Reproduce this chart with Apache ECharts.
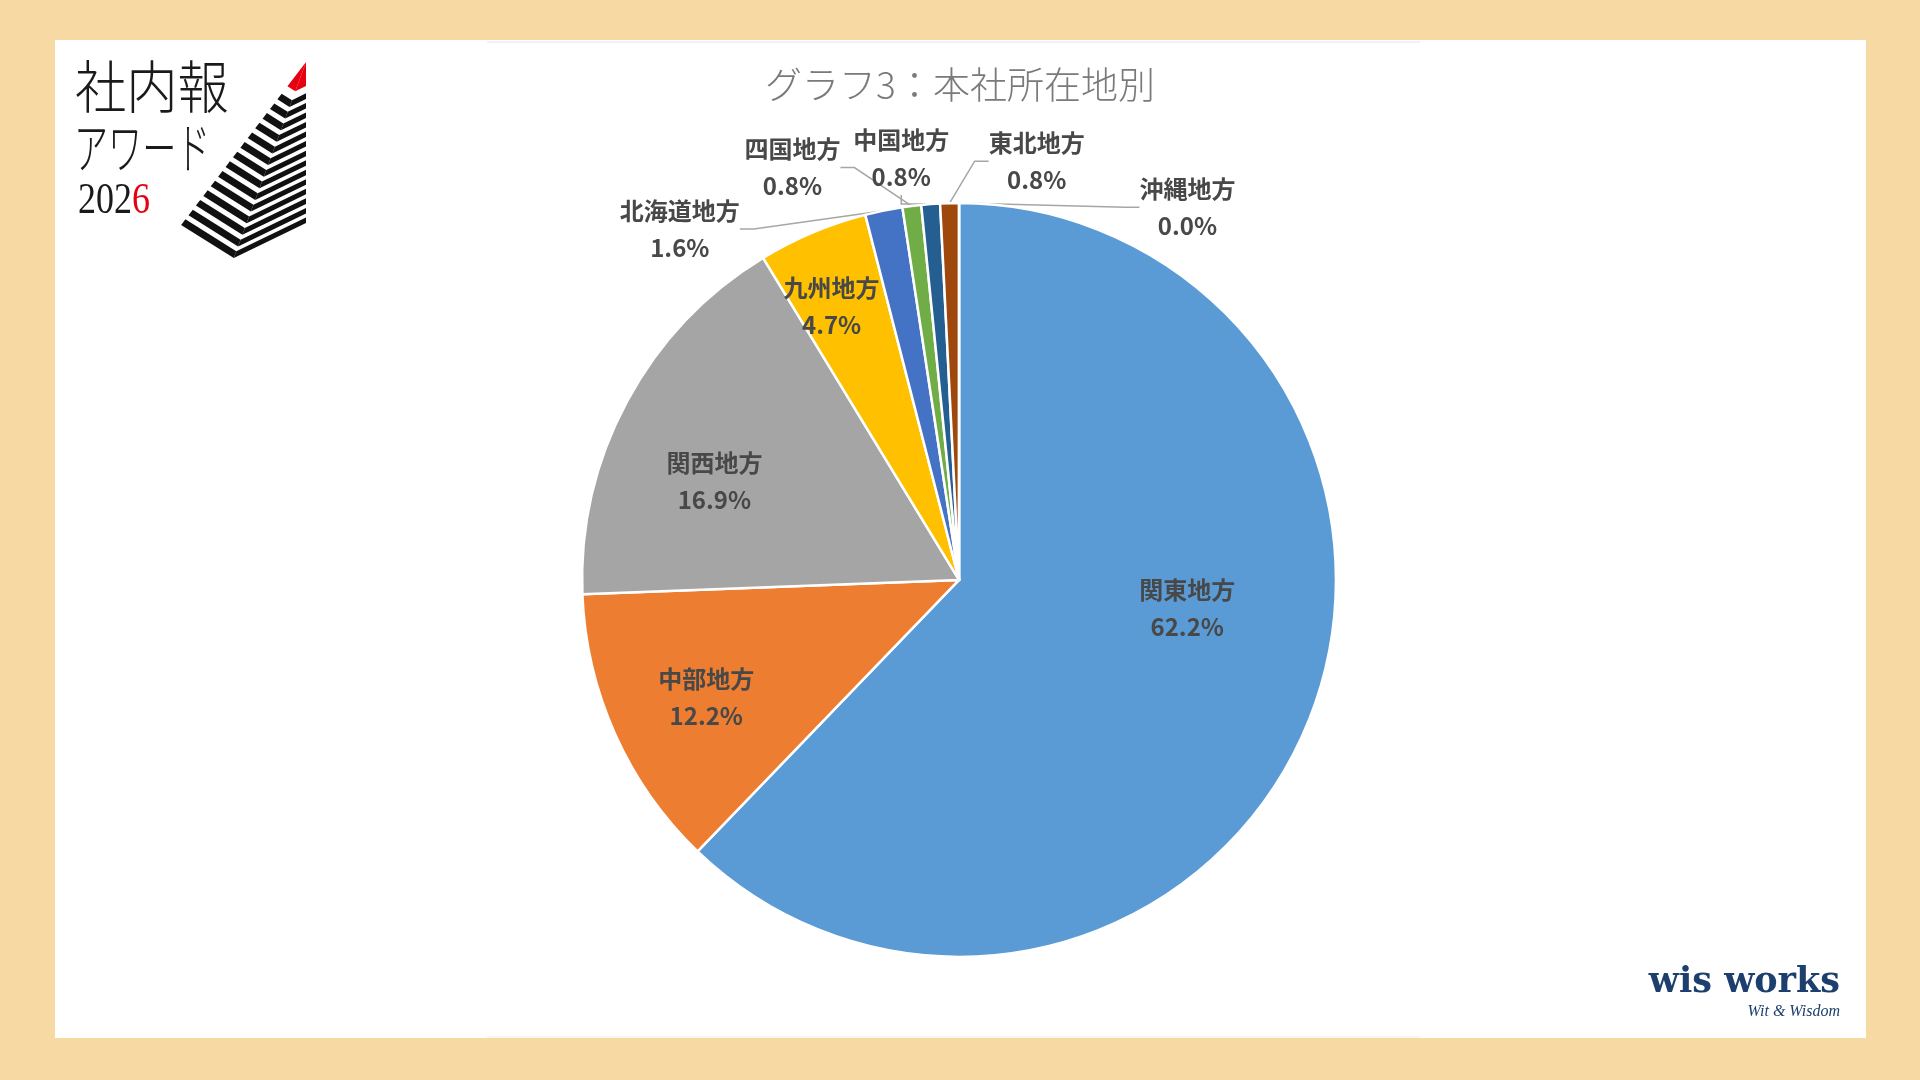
<!DOCTYPE html>
<html>
<head>
<meta charset="utf-8">
<script src="https://cdn.jsdelivr.net/npm/echarts@6/dist/echarts.min.js"></script>
<style>
  html, body { margin: 0; padding: 0; background: #F7DAA3; }
  #chart { width: 1920px; height: 1080px; }
</style>
</head>
<body>
<div id="chart"></div>
<script>
// Data (share of companies, %)
const categories = ['関東地方', '中部地方', '関西地方', '九州地方', '北海道地方', '四国地方', '中国地方', '東北地方', '沖縄地方'];
const shares = [62.2, 12.2, 16.9, 4.7, 1.6, 0.8, 0.8, 0.8, 0.0];

// Excel-like palette, same order as categories
const sliceColors = ['#5B9BD5', '#ED7D31', '#A5A5A5', '#FFC000', '#4472C4', '#70AD47', '#255E91', '#9E480E', '#636363'];
// which labels sit inside their slice
const insideLabel = [true, true, true, true, false, false, false, false, false];
// label spot: angle clockwise from 12 o'clock (deg), distance as a fraction of the radius
const labelSpots = [[97, 0.61], [245, 0.74], [292, 0.70], [335, 0.80], [321.5, 1.19], [338, 1.18], [352.2, 1.13], [10.5, 1.13], [31.5, 1.16]];

const CENTER = [49.95, 53.7];   // percent of width / height
const RADIUS = 69.8;            // percent of half the shorter side

const chart = echarts.init(document.getElementById('chart'));

// logo pyramid (decoration): two faces striped parallel to the base edges
function lerp(p, q, t) { return [p[0] + (q[0] - p[0]) * t, p[1] + (q[1] - p[1]) * t]; }
const A = [306, 62], L = [178, 229], B = [232, 263], R = [306, 227];
const logoShapes = [];
function band(t0, t1, color) {
  logoShapes.push({ type: 'polygon', shape: { points: [lerp(A, L, t0), lerp(A, B, t0), lerp(A, B, t1), lerp(A, L, t1)] }, style: { fill: color } });
  logoShapes.push({ type: 'polygon', shape: { points: [lerp(A, B, t0), lerp(A, R, t0), lerp(A, R, t1), lerp(A, B, t1)] }, style: { fill: color } });
}
band(0, 0.145, '#E60012');
const stripeCount = 14;
const period = (1 - 0.19) / stripeCount;
for (let i = 0; i < stripeCount; i++) {
  const t0 = 0.19 + i * period;
  band(t0, t0 + period * 0.58, '#111111');
}

const data = categories.map((name, i) => ({
  name: name,
  value: shares[i],
  itemStyle: { color: sliceColors[i] },
  label: { position: insideLabel[i] ? 'inside' : 'outside' },
  labelLine: { show: !insideLabel[i] }
}));

const option = {
  backgroundColor: '#F7DAA3',
  title: {
    text: 'グラフ3：本社所在地別',
    left: 'center',
    top: 66,
    padding: 0,
    textStyle: {
      fontFamily: '"Noto Sans CJK JP", "Open Sans", sans-serif',
      fontSize: 37,
      fontWeight: 300,
      color: '#7a7a7a'
    }
  },
  graphic: [
    {
      type: 'rect', z: -10,
      shape: { x: 55, y: 40, width: 1811, height: 998 },
      style: { fill: '#ffffff' }
    },
    {
      type: 'line', z: -9,
      shape: { x1: 487, y1: 42, x2: 1420, y2: 42 },
      style: { stroke: '#e4e4ea', lineWidth: 1 }
    },
    {
      type: 'line', z: -9,
      shape: { x1: 487, y1: 1037, x2: 1420, y2: 1037 },
      style: { stroke: '#ececec', lineWidth: 1 }
    },
    {
      type: 'text', x: 75, y: 86, scaleX: 0.9,
      style: {
        text: '社内報', verticalAlign: 'middle',
        fontSize: 57, fontFamily: '"Noto Sans CJK JP", sans-serif', fontWeight: 300, fill: '#1a1a1a'
      }
    },
    {
      type: 'text', x: 74, y: 147, scaleX: 0.62,
      style: {
        text: 'アワード', verticalAlign: 'middle',
        fontSize: 55, fontFamily: '"Noto Sans CJK JP", sans-serif', fontWeight: 300, fill: '#1a1a1a'
      }
    },
    {
      type: 'text', x: 78, y: 201, scaleX: 0.8,
      style: {
        text: '{a|202}{b|6}', verticalAlign: 'middle',
        rich: {
          a: { fontSize: 45, fontFamily: '"Liberation Serif", serif', fill: '#1a1a1a' },
          b: { fontSize: 45, fontFamily: '"Liberation Serif", serif', fill: '#E60012' }
        }
      }
    },
    { type: 'group', children: logoShapes },
    {
      type: 'text', x: 1840, y: 1000,
      style: {
        text: 'wis works', align: 'right', verticalAlign: 'bottom',
        fontSize: 35, fontWeight: 'bold', fontFamily: '"DejaVu Serif", serif', fill: '#1c3f6e'
      }
    },
    {
      type: 'text', x: 1840, y: 1012,
      style: {
        text: 'Wit & Wisdom', align: 'right', verticalAlign: 'middle',
        fontSize: 16, fontStyle: 'italic', fontFamily: '"Liberation Serif", serif', fill: '#1c3f6e'
      }
    }
  ],
  series: [
    {
      type: 'pie',
      center: [CENTER[0] + '%', CENTER[1] + '%'],
      radius: RADIUS + '%',
      startAngle: 90,
      clockwise: true,
      avoidLabelOverlap: false,
      data: data,
      itemStyle: { borderColor: '#ffffff', borderWidth: 2.5 },
      label: {
        show: true,
        formatter: p => p.name + '\n' + p.value.toFixed(1) + '%',
        fontFamily: '"Noto Sans CJK JP", "Open Sans", sans-serif',
        fontSize: 24,
        fontWeight: 'bold',
        lineHeight: 37,
        color: '#484848'
      },
      labelLine: {
        show: true,
        length: 20,
        length2: 14,
        lineStyle: { color: '#a6a6a6', width: 1.5 }
      },
      labelLayout: function (p) {
        const w = chart.getWidth(), h = chart.getHeight();
        const cx = w * CENTER[0] / 100, cy = h * CENTER[1] / 100;
        const r = Math.min(w, h) / 2 * RADIUS / 100;
        const s = labelSpots[p.dataIndex];
        const a = s[0] * Math.PI / 180;
        return {
          x: cx + Math.sin(a) * s[1] * r,
          y: cy - Math.cos(a) * s[1] * r,
          align: 'center',
          verticalAlign: 'middle'
        };
      },
      emphasis: { disabled: true },
      animation: false
    }
  ]
};

chart.setOption(option);
window.addEventListener('resize', () => chart.resize());
</script>
</body>
</html>
